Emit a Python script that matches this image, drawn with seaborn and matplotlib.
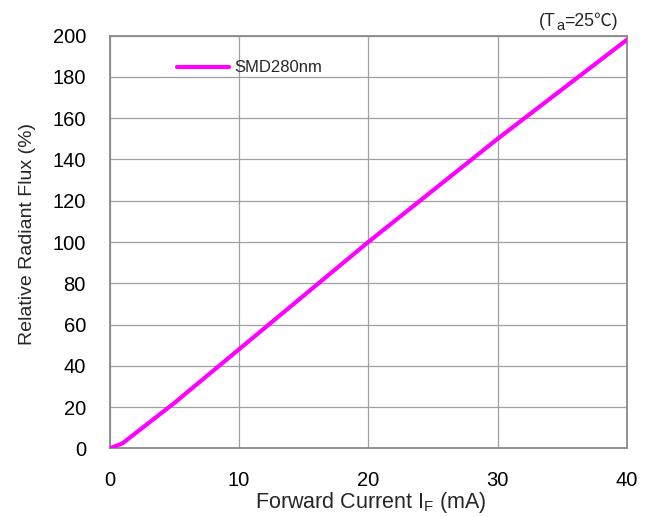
import matplotlib
matplotlib.use("Agg")
import matplotlib.pyplot as plt
import seaborn as sns
import pandas as pd

# Data
current_ma = [0, 1, 5, 10, 15, 20, 25, 30, 35, 40]
relative_flux = [0, 2.5, 22, 48, 74, 100, 125, 150, 174, 198]
series_name = "SMD280nm"
x_ticks = [0, 10, 20, 30, 40]
y_ticks = [0, 20, 40, 60, 80, 100, 120, 140, 160, 180, 200]

df = pd.DataFrame({"I_F": current_ma, "Flux": relative_flux, "Series": series_name})

sns.set_style("white")
plt.rcParams["font.family"] = ["Liberation Sans", "DejaVu Sans"]

fig = plt.figure(figsize=(6.52, 5.17), dpi=100)
ax = fig.add_axes([0.168, 0.1325, 0.9617 - 0.168, 0.9313 - 0.1325])

sns.lineplot(data=df, x="I_F", y="Flux", hue="Series", palette=["#FF00FF"],
             linewidth=3, ax=ax, legend=True, zorder=3)

ax.set_xlim(0, 40)
ax.set_ylim(0, 200)
ax.set_xticks(x_ticks)
ax.set_yticks(y_ticks)
ax.tick_params(axis="both", length=0, labelsize=14.5, colors="black")
ax.tick_params(axis="y", pad=17)
ax.tick_params(axis="x", pad=16.5)

ax.grid(True, color="#a0a0a0", linewidth=0.9)
ax.set_axisbelow(True)
for s in ax.spines.values():
    s.set_color("#8a8a8a")
    s.set_linewidth(1.3)
    s.set_visible(True)

ax.set_xlabel("Forward Current I$_\\mathregular{F}$ (mA)", fontsize=15.5)
ax.set_ylabel("Relative Radiant Flux (%)", fontsize=14)
ax.xaxis.set_label_coords(0.505, -0.1007)
ax.yaxis.set_label_coords(-0.1422, 0.52)

leg = ax.legend(loc="upper left", bbox_to_anchor=(0.115, 0.96), frameon=False,
                fontsize=12, handlelength=3.1, handletextpad=0.3, borderpad=0)
leg.set_title(None)

# Condition note: (T_a=25℃)
fam = ["Liberation Sans", "Noto Sans CJK SC", "DejaVu Sans"]
t1 = ax.text(0.830, 1.0225, "(T", transform=ax.transAxes,
             ha="left", va="baseline", fontsize=12.7, family=fam)
t2 = ax.annotate("a", xy=(1, 0), xycoords=t1, xytext=(0.1, -1.8),
                 textcoords="offset points", ha="left", va="bottom",
                 fontsize=10.5, family=fam)
t3 = ax.annotate("=25\u2103)", xy=(1, 0), xycoords=(t2, t1), xytext=(0.1, 0),
                 textcoords="offset points", ha="left", va="bottom",
                 fontsize=12.7, family=fam)

fig.savefig("out.png", dpi=100)
